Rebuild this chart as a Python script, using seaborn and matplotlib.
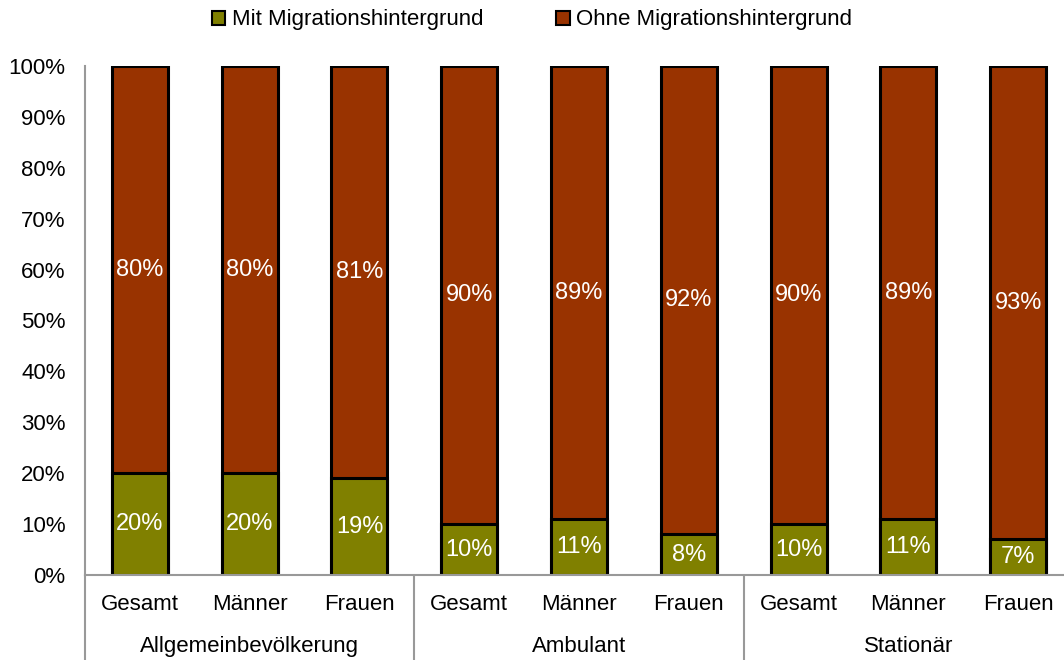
import numpy as np
import pandas as pd
import matplotlib
matplotlib.use("Agg")
import matplotlib.pyplot as plt
import seaborn as sns
from matplotlib.patches import Patch
from matplotlib.transforms import blended_transform_factory

# data
groups = ["Allgemeinbevölkerung", "Ambulant", "Stationär"]
categories = ["Gesamt", "Männer", "Frauen"]
mit = [20, 20, 19, 10, 11, 8, 10, 11, 7]
ohne = [80, 80, 81, 90, 89, 92, 90, 89, 93]

GREEN = "#808000"
RED = "#993300"

keys = [f"{g}|{c}" for g in groups for c in categories]
df = pd.DataFrame({"key": keys, "mit": mit, "ohne": ohne})
df["total"] = df["mit"] + df["ohne"]

sns.set_style("white")
plt.rcParams["font.family"] = ["Liberation Sans", "DejaVu Sans"]
plt.rcParams["text.color"] = "black"
plt.rcParams["xtick.labelcolor"] = "black"
plt.rcParams["ytick.labelcolor"] = "black"

fig = plt.figure(figsize=(10.64, 6.6), dpi=100)
ax = fig.add_axes([85 / 1064, 85 / 660, 988 / 1064, 509 / 660])

# stacked: total in red, Mit over it in green
sns.barplot(data=df, x="key", y="total", order=keys, color=RED, width=0.51,
            edgecolor="black", linewidth=2.2, saturation=1, ax=ax)
sns.barplot(data=df, x="key", y="mit", order=keys, color=GREEN, width=0.51,
            edgecolor="black", linewidth=2.2, saturation=1, ax=ax)

for i, (m, o) in enumerate(zip(mit, ohne)):
    ax.text(i, m / 2, f"{m}%", ha="center", va="center", color="white", fontsize=17)
    ax.text(i, m + o / 2, f"{o}%", ha="center", va="center", color="white", fontsize=17)

ax.set_ylim(0, 100)
ax.set_xlim(-0.5, len(keys) - 0.5)
ax.set_yticks(range(0, 101, 10))
ax.set_yticklabels([f"{v}%" for v in range(0, 101, 10)], fontsize=16)
ax.set_xticks(range(len(keys)))
ax.set_xticklabels(categories * len(groups), fontsize=16)
ax.set_xlabel("")
ax.set_ylabel("")
ax.tick_params(axis="y", direction="out", length=6, color="#999999", width=1.5, pad=8)
ax.tick_params(axis="x", length=0, pad=14)

for s in ["top", "right"]:
    ax.spines[s].set_visible(False)
for s in ["left", "bottom"]:
    ax.spines[s].set_color("#999999")
    ax.spines[s].set_linewidth(1.5)

# group separators and group labels below the axis
trans = blended_transform_factory(ax.transData, ax.transAxes)
for x in [-0.5, 2.5, 5.5]:
    ax.plot([x, x], [0, -0.17], color="#999999", lw=1.5, transform=trans, clip_on=False)
for j, g in enumerate(groups):
    ax.text(j * 3 + 1, -0.14, g, ha="center", va="center", fontsize=16, transform=trans)

handles = [Patch(facecolor=GREEN, edgecolor="black", linewidth=1.5, label="Mit Migrationshintergrund"),
           Patch(facecolor=RED, edgecolor="black", linewidth=1.5, label="Ohne Migrationshintergrund")]
fig.legend(handles=handles, loc="center", bbox_to_anchor=(0.5, 1 - 20 / 660), ncol=2,
           frameon=False, fontsize=16, handlelength=0.6, handleheight=0.6,
           handletextpad=0.3, columnspacing=3.3)

fig.savefig("out.png", dpi=100)
